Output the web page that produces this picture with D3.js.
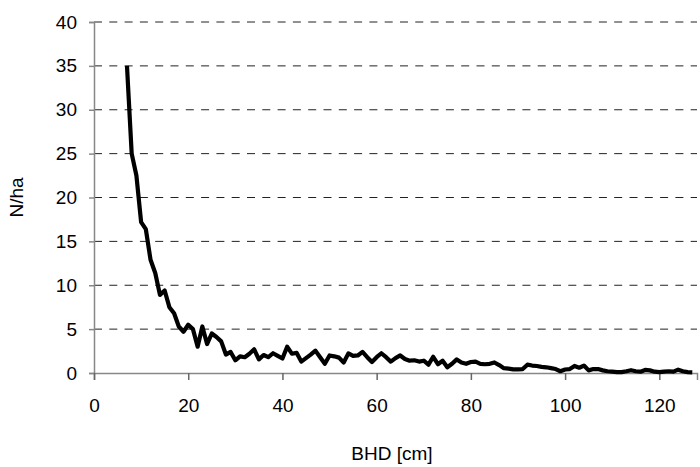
<!DOCTYPE html>
<html>
<head>
<meta charset="utf-8">
<script src="https://cdn.jsdelivr.net/npm/d3@7"></script>
<style>
  body { margin: 0; background: #fff; }
  text { font-family: "Liberation Sans", Arial, sans-serif; }
</style>
</head>
<body>
<div id="chart"></div>
<script>
// diameter classes (cm) and stems per hectare
const bhd = d3.range(7, 128)
const nPerHa = [
  35, 25, 22.5, 17.2, 16.4, 12.9, 11.4, 8.9, 9.4, 7.5,
  6.8, 5.3, 4.7, 5.5, 5.0, 3.0, 5.3, 3.3, 4.5, 4.1,
  3.6, 2.1, 2.4, 1.45, 1.9, 1.8, 2.2, 2.7, 1.55, 2.05,
  1.8, 2.25, 1.95, 1.65, 3.0, 2.2, 2.3, 1.3, 1.7, 2.1,
  2.55, 1.8, 1.05, 2.0, 1.9, 1.75, 1.2, 2.24, 1.95, 2.0,
  2.4, 1.8, 1.25, 1.8, 2.25, 1.8, 1.3, 1.7, 2.0, 1.6,
  1.4, 1.45, 1.3, 1.4, 0.95, 1.85, 1.0, 1.4, 0.65, 1.05,
  1.55, 1.2, 1.05, 1.25, 1.3, 1.05, 1.0, 1.05, 1.2, 0.9,
  0.55, 0.5, 0.42, 0.42, 0.45, 0.95, 0.85, 0.8, 0.7, 0.65,
  0.55, 0.45, 0.2, 0.4, 0.45, 0.8, 0.6, 0.85, 0.3, 0.45,
  0.45, 0.3, 0.2, 0.15, 0.1, 0.1, 0.2, 0.32, 0.2, 0.15,
  0.35, 0.3, 0.15, 0.1, 0.15, 0.2, 0.15, 0.38, 0.2, 0.1,
  0.08
]
const xTicks = [0, 20, 40, 60, 80, 100, 120]
const yTicks = [0, 5, 10, 15, 20, 25, 30, 35, 40]

const W = 700, H = 467
const mLeft = 94, mRight = 697, mTop = 22, mBottom = 373

const svg = d3.select('#chart').append('svg')
  .attr('width', W)
  .attr('height', H)

const x = d3.scaleLinear().domain([0, 128]).range([mLeft, mRight])
const y = d3.scaleLinear().domain([0, 40]).range([mBottom, mTop])

// dashed gridlines
svg.append('g')
  .selectAll('line')
  .data(yTicks.filter(d => d > 0))
  .enter().append('line')
    .attr('x1', mLeft)
    .attr('x2', mRight)
    .attr('y1', d => y(d))
    .attr('y2', d => y(d))
    .style('stroke', '#222')
    .style('stroke-width', 1)
    .style('stroke-dasharray', '8,7.3')

// y axis
const yAxis = svg.append('g')
  .attr('transform', `translate(${mLeft},0)`)
  .call(d3.axisLeft(y).tickValues(yTicks).tickSize(5).tickPadding(12))
yAxis.select('.domain').style('stroke', '#888').style('stroke-width', 1.5)
yAxis.selectAll('.tick line').style('stroke', '#888').style('stroke-width', 1.5)
yAxis.selectAll('text').style('font-size', '19px').style('fill', '#000')

// x axis
const xAxis = svg.append('g')
  .attr('transform', `translate(0,${mBottom})`)
  .call(d3.axisBottom(x).tickValues(xTicks).tickSize(7).tickPadding(19))
xAxis.select('.domain').style('stroke', '#888').style('stroke-width', 1.5)
xAxis.selectAll('.tick line').style('stroke', '#666').style('stroke-width', 1.5)
xAxis.selectAll('text').style('font-size', '19px').style('fill', '#000')

// the curve
const line = d3.line()
  .x((d, i) => x(bhd[i]))
  .y(d => y(d))

svg.append('path')
  .datum(nPerHa)
  .attr('d', line)
  .style('fill', 'none')
  .style('stroke', '#000')
  .style('stroke-width', 4.2)
  .style('stroke-linejoin', 'round')

// axis titles
svg.append('text')
  .attr('x', 392)
  .attr('y', 460)
  .attr('text-anchor', 'middle')
  .style('font-size', '19px')
  .text('BHD [cm]')

svg.append('text')
  .attr('transform', `translate(23,${(mTop + mBottom) / 2}) rotate(-90)`)
  .attr('text-anchor', 'middle')
  .style('font-size', '19px')
  .text('N/ha')
</script>
</body>
</html>
